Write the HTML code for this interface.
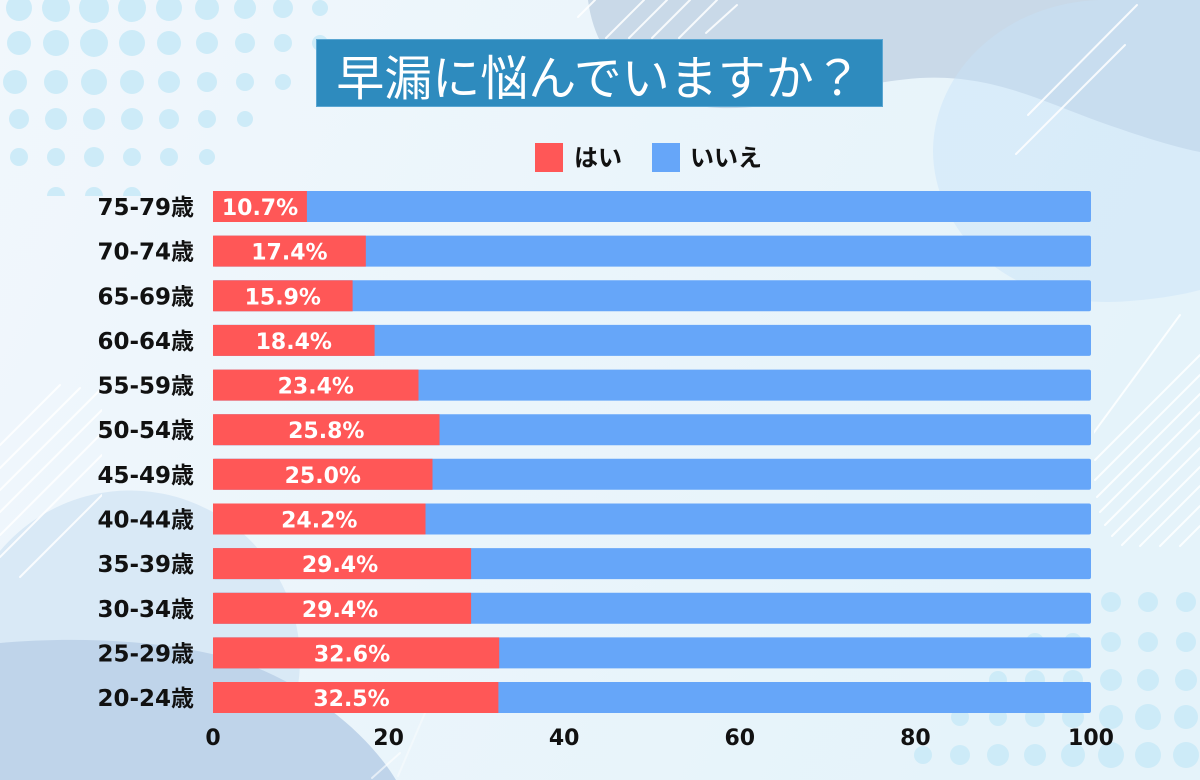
<!DOCTYPE html>
<html><head><meta charset="utf-8"><style>
html,body{margin:0;padding:0;width:1200px;height:780px;overflow:hidden;background:#eef6fb;}
svg{display:block}
.yl{font-family:"DejaVu Sans","Noto Sans CJK JP",sans-serif;font-weight:bold;font-size:23px;fill:#111;}
.bl{font-family:"DejaVu Sans","Noto Sans CJK JP",sans-serif;font-weight:bold;font-size:22px;fill:#fff;}
.ax{font-family:"DejaVu Sans","Noto Sans CJK JP",sans-serif;font-weight:bold;font-size:22px;fill:#111;}
.lg{font-family:"Noto Sans CJK JP","Liberation Sans",sans-serif;font-weight:bold;font-size:24px;fill:#111;}
.tt{font-family:"Noto Sans CJK JP","Liberation Sans",sans-serif;font-weight:normal;font-size:48px;fill:#fff;}
</style></head><body>
<svg width="1200" height="780" viewBox="0 0 1200 780" xmlns="http://www.w3.org/2000/svg">
<defs>
<linearGradient id="bg" x1="0" y1="0" x2="1" y2="0.3">
<stop offset="0" stop-color="#f1f7fc"/><stop offset="1" stop-color="#e5f3fa"/>
</linearGradient>
<clipPath id="cR"><rect x="1094" y="308" width="106" height="240"/></clipPath>
<clipPath id="cL"><rect x="0" y="372" width="102" height="210"/></clipPath>
<clipPath id="cT"><rect x="560" y="0" width="200" height="40"/></clipPath>
<clipPath id="cD"><rect x="0" y="0" width="360" height="196"/></clipPath>
</defs>
<rect width="1200" height="780" fill="url(#bg)"/>
<!-- top gray shape -->
<path d="M588,0 C596,62 640,104 720,108 C790,110 840,84 920,78 C990,74 1040,100 1100,122 C1140,136 1170,146 1200,152 L1200,0 Z" fill="#c9d9e8"/>
<!-- right circle -->
<path d="M1100,0 L1200,0 L1200,290 C1170,298 1130,302 1105,302 A172 152 0 0 1 933,150 A172 152 0 0 1 1100,0 Z" fill="#c8e3f8" fill-opacity="0.45"/>
<!-- bottom-left shapes -->
<path d="M0,551 A170 170 0 0 1 300,660 A170 170 0 0 1 250,780 L0,780 Z" fill="#d9e9f6"/>
<path d="M0,643 C80,636 180,640 250,665 C320,692 372,740 396,780 L0,780 Z" fill="#bfd4ea"/>
<!-- top-left dots -->
<g fill="#cdebf8" clip-path="url(#cD)">
<circle cx="19" cy="8" r="13"/><circle cx="56" cy="8" r="14"/><circle cx="94" cy="8" r="15"/><circle cx="132" cy="8" r="14"/><circle cx="169" cy="8" r="13"/><circle cx="207" cy="8" r="12"/><circle cx="245" cy="8" r="11"/><circle cx="283" cy="8" r="10"/><circle cx="320" cy="8" r="8"/>
<circle cx="19" cy="43" r="12"/><circle cx="56" cy="43" r="13"/><circle cx="94" cy="43" r="14"/><circle cx="132" cy="43" r="13"/><circle cx="169" cy="43" r="12"/><circle cx="207" cy="43" r="11"/><circle cx="245" cy="43" r="10"/><circle cx="283" cy="43" r="9"/><circle cx="320" cy="43" r="8"/>
<circle cx="15" cy="82" r="12"/><circle cx="56" cy="82" r="12"/><circle cx="94" cy="82" r="13"/><circle cx="132" cy="82" r="12"/><circle cx="169" cy="82" r="11"/><circle cx="207" cy="82" r="10"/><circle cx="245" cy="82" r="9"/><circle cx="283" cy="82" r="8"/>
<circle cx="19" cy="119" r="10"/><circle cx="56" cy="119" r="11"/><circle cx="94" cy="119" r="11"/><circle cx="132" cy="119" r="11"/><circle cx="169" cy="119" r="10"/><circle cx="207" cy="119" r="9"/><circle cx="245" cy="119" r="8"/>
<circle cx="19" cy="157" r="9"/><circle cx="56" cy="157" r="9"/><circle cx="94" cy="157" r="10"/><circle cx="132" cy="157" r="9"/><circle cx="169" cy="157" r="9"/><circle cx="207" cy="157" r="8"/>
<circle cx="56" cy="196" r="9"/><circle cx="94" cy="196" r="9"/><circle cx="132" cy="196" r="9"/>
</g>
<!-- bottom-right dots -->
<g fill="#cdebf8">
<circle cx="1111" cy="602" r="10"/><circle cx="1148" cy="602" r="10"/><circle cx="1186" cy="602" r="10"/>
<circle cx="1035" cy="642" r="9"/><circle cx="1073" cy="642" r="9"/><circle cx="1111" cy="642" r="10"/><circle cx="1148" cy="642" r="10"/><circle cx="1186" cy="642" r="10"/>
<circle cx="998" cy="680" r="9"/><circle cx="1035" cy="680" r="10"/><circle cx="1073" cy="680" r="10"/><circle cx="1111" cy="680" r="11"/><circle cx="1148" cy="680" r="11"/><circle cx="1186" cy="680" r="11"/>
<circle cx="960" cy="717" r="9"/><circle cx="998" cy="717" r="9"/><circle cx="1035" cy="717" r="10"/><circle cx="1073" cy="717" r="11"/><circle cx="1111" cy="717" r="12"/><circle cx="1148" cy="717" r="13"/><circle cx="1186" cy="717" r="12"/>
<circle cx="923" cy="755" r="9"/><circle cx="960" cy="755" r="10"/><circle cx="998" cy="755" r="11"/><circle cx="1035" cy="755" r="11"/><circle cx="1073" cy="755" r="12"/><circle cx="1111" cy="755" r="13"/><circle cx="1148" cy="755" r="13"/><circle cx="1186" cy="755" r="13"/>
</g>
<!-- white diagonal lines -->
<g stroke="#ffffff" stroke-width="2" stroke-opacity="0.85" stroke-linecap="round">
<g clip-path="url(#cT)">
<line x1="578" y1="17" x2="595" y2="0"/>
<line x1="606" y1="38" x2="644" y2="0"/>
<line x1="629" y1="38" x2="667" y2="0"/>
<line x1="652" y1="38" x2="690" y2="0"/>
<line x1="679" y1="38" x2="717" y2="0"/>
<line x1="706" y1="33" x2="737" y2="5"/>
</g>
<line x1="1028" y1="115" x2="1137" y2="5"/>
<line x1="1016" y1="154" x2="1125" y2="45"/>
<g clip-path="url(#cR)">
<line x1="1092" y1="435" x2="1180" y2="315"/>
<line x1="1095" y1="460" x2="1200" y2="355"/>
<line x1="1095" y1="480" x2="1200" y2="375"/>
<line x1="1097" y1="497" x2="1200" y2="394"/>
<line x1="1100" y1="512" x2="1200" y2="412"/>
<line x1="1105" y1="525" x2="1200" y2="430"/>
<line x1="1112" y1="536" x2="1200" y2="448"/>
<line x1="1122" y1="545" x2="1200" y2="467"/>
<line x1="1140" y1="546" x2="1200" y2="486"/>
<line x1="1160" y1="546" x2="1200" y2="506"/>
<line x1="1180" y1="546" x2="1200" y2="526"/>
</g>
<g clip-path="url(#cL)">
<line x1="0" y1="445" x2="60" y2="385"/>
<line x1="0" y1="468" x2="80" y2="388"/>
<line x1="0" y1="490" x2="100" y2="390"/>
<line x1="0" y1="512" x2="102" y2="410"/>
<line x1="0" y1="535" x2="102" y2="433"/>
<line x1="0" y1="557" x2="102" y2="455"/>
<line x1="20" y1="577" x2="102" y2="495"/>
</g>
<line x1="372" y1="778" x2="400" y2="753" stroke-opacity="0.6"/>
<line x1="398" y1="776" x2="428" y2="706" stroke-opacity="0.4"/>
</g>
<!-- title -->
<rect x="316.5" y="39.5" width="566" height="67" fill="#2e8bbe" stroke="#5aa6d2" stroke-width="1"/>
<text class="tt" x="599" y="74" text-anchor="middle" dominant-baseline="central">早漏に悩んでいますか？</text>
<!-- legend -->
<rect x="535" y="143" width="28" height="29" fill="#ff5757"/>
<text class="lg" x="574" y="166">はい</text>
<rect x="652" y="143" width="28" height="29" fill="#66a6f9"/>
<text class="lg" x="690" y="166">いいえ</text>
<!-- bars -->
<g>
<rect x="213" y="191" width="878" height="31" rx="2" fill="#66a6f9"/><rect x="213" y="191" width="93.9" height="31" fill="#ff5757"/>
<rect x="213" y="235.6" width="878" height="31" rx="2" fill="#66a6f9"/><rect x="213" y="235.6" width="152.8" height="31" fill="#ff5757"/>
<rect x="213" y="280.3" width="878" height="31" rx="2" fill="#66a6f9"/><rect x="213" y="280.3" width="139.6" height="31" fill="#ff5757"/>
<rect x="213" y="324.9" width="878" height="31" rx="2" fill="#66a6f9"/><rect x="213" y="324.9" width="161.6" height="31" fill="#ff5757"/>
<rect x="213" y="369.6" width="878" height="31" rx="2" fill="#66a6f9"/><rect x="213" y="369.6" width="205.5" height="31" fill="#ff5757"/>
<rect x="213" y="414.2" width="878" height="31" rx="2" fill="#66a6f9"/><rect x="213" y="414.2" width="226.5" height="31" fill="#ff5757"/>
<rect x="213" y="458.8" width="878" height="31" rx="2" fill="#66a6f9"/><rect x="213" y="458.8" width="219.5" height="31" fill="#ff5757"/>
<rect x="213" y="503.5" width="878" height="31" rx="2" fill="#66a6f9"/><rect x="213" y="503.5" width="212.5" height="31" fill="#ff5757"/>
<rect x="213" y="548.1" width="878" height="31" rx="2" fill="#66a6f9"/><rect x="213" y="548.1" width="258.1" height="31" fill="#ff5757"/>
<rect x="213" y="592.8" width="878" height="31" rx="2" fill="#66a6f9"/><rect x="213" y="592.8" width="258.1" height="31" fill="#ff5757"/>
<rect x="213" y="637.4" width="878" height="31" rx="2" fill="#66a6f9"/><rect x="213" y="637.4" width="286.2" height="31" fill="#ff5757"/>
<rect x="213" y="682" width="878" height="31" rx="2" fill="#66a6f9"/><rect x="213" y="682" width="285.4" height="31" fill="#ff5757"/>
</g>
<!-- bar labels -->
<g class="bl" text-anchor="middle">
<text x="260" y="215">10.7%</text>
<text x="289.4" y="259.6">17.4%</text>
<text x="282.8" y="304.3">15.9%</text>
<text x="293.8" y="348.9">18.4%</text>
<text x="315.8" y="393.6">23.4%</text>
<text x="326.3" y="438.2">25.8%</text>
<text x="322.8" y="482.8">25.0%</text>
<text x="319.3" y="527.5">24.2%</text>
<text x="340" y="572.1">29.4%</text>
<text x="340" y="616.8">29.4%</text>
<text x="352" y="661.4">32.6%</text>
<text x="351.5" y="706">32.5%</text>
</g>
<!-- y labels -->
<g class="yl" text-anchor="end">
<text x="194" y="215">75-79歳</text>
<text x="194" y="259.6">70-74歳</text>
<text x="194" y="304.3">65-69歳</text>
<text x="194" y="348.9">60-64歳</text>
<text x="194" y="393.6">55-59歳</text>
<text x="194" y="438.2">50-54歳</text>
<text x="194" y="482.8">45-49歳</text>
<text x="194" y="527.5">40-44歳</text>
<text x="194" y="572.1">35-39歳</text>
<text x="194" y="616.8">30-34歳</text>
<text x="194" y="661.4">25-29歳</text>
<text x="194" y="706">20-24歳</text>
</g>
<!-- x axis -->
<g class="ax" text-anchor="middle">
<text x="213" y="745">0</text>
<text x="388.6" y="745">20</text>
<text x="564.2" y="745">40</text>
<text x="739.8" y="745">60</text>
<text x="915.4" y="745">80</text>
<text x="1091" y="745">100</text>
</g>
</svg>
</body></html>
